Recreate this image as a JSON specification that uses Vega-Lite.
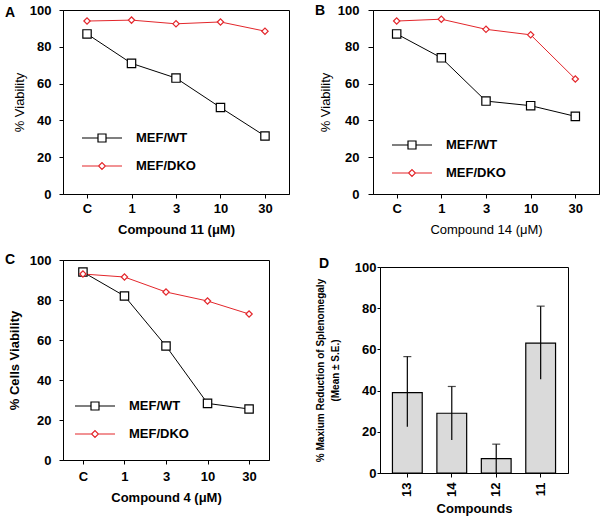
{
  "$schema": "https://vega.github.io/schema/vega-lite/v6.json",
  "padding": {"left": 4, "top": 3, "right": 0, "bottom": 0},
  "config": {
    "font": "Liberation Sans",
    "view": {"stroke": "black", "strokeWidth": 1},
    "axis": {"grid": false, "domainColor": "black", "tickColor": "black", "labelColor": "black", "titleColor": "black", "labelFontSize": 13, "labelFontWeight": "bold", "labelFont": "Liberation Sans", "titleFont": "Liberation Sans", "tickSize": 4, "domainWidth": 1, "tickWidth": 1},
    "title": {"anchor": "start", "frame": "group", "fontSize": 14, "fontWeight": "bold", "color": "black", "offset": 0, "baseline": "alphabetic"},
    "legend": {"title": null, "padding": 0, "symbolSize": 1600, "labelFontSize": 13, "labelFontWeight": "bold", "labelColor": "black", "labelFont": "Liberation Sans", "labelOffset": 13, "symbolStrokeWidth": 1.2, "symbolFillColor": "white"}
  },
  "spacing": 15,
  "resolve": {"scale": {"x": "independent", "y": "independent", "stroke": "independent"}, "legend": {"stroke": "independent"}},
  "vconcat": [
    {
      "spacing": 24,
      "resolve": {"scale": {"x": "independent", "y": "independent", "stroke": "independent"}, "legend": {"stroke": "independent"}},
      "hconcat": [
        {
          "width": 226, "height": 184,
          "title": {"text": "A", "dx": -58, "dy": 20},
          "data": {"values": [
            {"dose": "C", "series": "MEF/WT", "v": 87},
            {"dose": "1", "series": "MEF/WT", "v": 71},
            {"dose": "3", "series": "MEF/WT", "v": 63},
            {"dose": "10", "series": "MEF/WT", "v": 47},
            {"dose": "30", "series": "MEF/WT", "v": 31.5},
            {"dose": "C", "series": "MEF/DKO", "v": 94},
            {"dose": "1", "series": "MEF/DKO", "v": 94.5},
            {"dose": "3", "series": "MEF/DKO", "v": 92.5},
            {"dose": "10", "series": "MEF/DKO", "v": 93.5},
            {"dose": "30", "series": "MEF/DKO", "v": 88.5}
          ]},
          "encoding": {
            "x": {"field": "dose", "type": "ordinal", "sort": ["C", "1", "3", "10", "30"], "scale": {"type": "point", "padding": 0.54},
              "axis": {"title": "Compound 11 (μM)", "labelAngle": 0, "labelPadding": 4, "titlePadding": 8, "titleFontSize": 13, "titleFontWeight": "bold"}},
            "y": {"field": "v", "type": "quantitative", "scale": {"domain": [0, 100]},
              "axis": {"title": "% Viability", "values": [0, 20, 40, 60, 80, 100], "labelPadding": 8, "titlePadding": 3, "titleFontSize": 13, "titleFontWeight": "normal"}}
          },
          "layer": [
            {"mark": {"type": "line", "strokeWidth": 1},
              "encoding": {"stroke": {"field": "series", "type": "nominal", "scale": {"domain": ["MEF/WT", "MEF/DKO"], "range": ["#000000", "#e3262b"]},
                "legend": {"orient": "none", "legendX": 18, "legendY": 107, "rowPadding": -17,
                  "encode": {"symbols": {"update": {"shape": {"signal": "datum.value === 'MEF/WT' ? 'M-1,0H-0.2M0.2,0H1M-0.2,-0.2H0.2V0.2H-0.2Z' : 'M-1,0H-0.17M0.17,0H1M-0.17,0L0,-0.17L0.17,0L0,0.17Z'"}, "fill": {"value": "white"}, "strokeWidth": {"value": 1.2}, "size": {"value": 1600}}}}}}}},
            {"transform": [{"filter": "datum.series === 'MEF/WT'"}],
              "mark": {"type": "point", "shape": "square", "size": 70, "filled": true, "fill": "white", "stroke": "#000000", "opacity": 1, "strokeWidth": 1.2}},
            {"transform": [{"filter": "datum.series === 'MEF/DKO'"}],
              "mark": {"type": "point", "shape": "diamond", "size": 40, "filled": true, "fill": "white", "stroke": "#e3262b", "opacity": 1, "strokeWidth": 1.2}}
          ]
        },
        {
          "width": 226, "height": 184,
          "title": {"text": "B", "dx": -58, "dy": 18},
          "data": {"values": [
            {"dose": "C", "series": "MEF/WT", "v": 87},
            {"dose": "1", "series": "MEF/WT", "v": 74},
            {"dose": "3", "series": "MEF/WT", "v": 50.5},
            {"dose": "10", "series": "MEF/WT", "v": 48},
            {"dose": "30", "series": "MEF/WT", "v": 42.2},
            {"dose": "C", "series": "MEF/DKO", "v": 94},
            {"dose": "1", "series": "MEF/DKO", "v": 95},
            {"dose": "3", "series": "MEF/DKO", "v": 89.5},
            {"dose": "10", "series": "MEF/DKO", "v": 86.5},
            {"dose": "30", "series": "MEF/DKO", "v": 62.5}
          ]},
          "encoding": {
            "x": {"field": "dose", "type": "ordinal", "sort": ["C", "1", "3", "10", "30"], "scale": {"type": "point", "padding": 0.53},
              "axis": {"title": "Compound 14 (μM)", "labelAngle": 0, "labelPadding": 4, "titlePadding": 8, "titleFontSize": 13, "titleFontWeight": "normal"}},
            "y": {"field": "v", "type": "quantitative", "scale": {"domain": [0, 100]},
              "axis": {"title": "% Viability", "values": [0, 20, 40, 60, 80, 100], "labelPadding": 9, "tickSize": 5, "titlePadding": 5, "titleFontSize": 13, "titleFontWeight": "normal"}}
          },
          "layer": [
            {"mark": {"type": "line", "strokeWidth": 1},
              "encoding": {"stroke": {"field": "series", "type": "nominal", "scale": {"domain": ["MEF/WT", "MEF/DKO"], "range": ["#000000", "#e3262b"]},
                "legend": {"orient": "none", "legendX": 18, "legendY": 114, "rowPadding": -14,
                  "encode": {"symbols": {"update": {"shape": {"signal": "datum.value === 'MEF/WT' ? 'M-1,0H-0.2M0.2,0H1M-0.2,-0.2H0.2V0.2H-0.2Z' : 'M-1,0H-0.17M0.17,0H1M-0.17,0L0,-0.17L0.17,0L0,0.17Z'"}, "fill": {"value": "white"}, "strokeWidth": {"value": 1.2}, "size": {"value": 1600}}}}}}}},
            {"transform": [{"filter": "datum.series === 'MEF/WT'"}],
              "mark": {"type": "point", "shape": "square", "size": 70, "filled": true, "fill": "white", "stroke": "#000000", "opacity": 1, "strokeWidth": 1.2}},
            {"transform": [{"filter": "datum.series === 'MEF/DKO'"}],
              "mark": {"type": "point", "shape": "diamond", "size": 40, "filled": true, "fill": "white", "stroke": "#e3262b", "opacity": 1, "strokeWidth": 1.2}}
          ]
        }
      ]
    },
    {
      "spacing": 44,
      "resolve": {"scale": {"x": "independent", "y": "independent", "stroke": "independent"}, "legend": {"stroke": "independent"}},
      "hconcat": [
        {
          "width": 206, "height": 200,
          "title": {"text": "C", "dx": -58, "dy": 17},
          "data": {"values": [
            {"dose": "C", "series": "MEF/WT", "v": 94},
            {"dose": "1", "series": "MEF/WT", "v": 82},
            {"dose": "3", "series": "MEF/WT", "v": 57},
            {"dose": "10", "series": "MEF/WT", "v": 28.3},
            {"dose": "30", "series": "MEF/WT", "v": 25.5},
            {"dose": "C", "series": "MEF/DKO", "v": 93},
            {"dose": "1", "series": "MEF/DKO", "v": 91.5},
            {"dose": "3", "series": "MEF/DKO", "v": 84},
            {"dose": "10", "series": "MEF/DKO", "v": 79.5},
            {"dose": "30", "series": "MEF/DKO", "v": 73}
          ]},
          "encoding": {
            "x": {"field": "dose", "type": "ordinal", "sort": ["C", "1", "3", "10", "30"], "scale": {"type": "point", "padding": 0.48},
              "axis": {"title": "Compound 4  (μM)", "labelAngle": 0, "labelPadding": 6, "titlePadding": 8, "titleFontSize": 13, "titleFontWeight": "bold"}},
            "y": {"field": "v", "type": "quantitative", "scale": {"domain": [0, 100]},
              "axis": {"title": "% Cells Viability", "values": [0, 20, 40, 60, 80, 100], "labelPadding": 8, "titlePadding": 8, "titleFontSize": 13, "titleFontWeight": "bold"}}
          },
          "layer": [
            {"mark": {"type": "line", "strokeWidth": 1},
              "encoding": {"stroke": {"field": "series", "type": "nominal", "scale": {"domain": ["MEF/WT", "MEF/DKO"], "range": ["#000000", "#e3262b"]},
                "legend": {"orient": "none", "legendX": 11, "legendY": 125, "rowPadding": -12,
                  "encode": {"symbols": {"update": {"shape": {"signal": "datum.value === 'MEF/WT' ? 'M-1,0H-0.2M0.2,0H1M-0.2,-0.2H0.2V0.2H-0.2Z' : 'M-1,0H-0.17M0.17,0H1M-0.17,0L0,-0.17L0.17,0L0,0.17Z'"}, "fill": {"value": "white"}, "strokeWidth": {"value": 1.2}, "size": {"value": 1600}}}}}}}},
            {"transform": [{"filter": "datum.series === 'MEF/WT'"}],
              "mark": {"type": "point", "shape": "square", "size": 70, "filled": true, "fill": "white", "stroke": "#000000", "opacity": 1, "strokeWidth": 1.2}},
            {"transform": [{"filter": "datum.series === 'MEF/DKO'"}],
              "mark": {"type": "point", "shape": "diamond", "size": 40, "filled": true, "fill": "white", "stroke": "#e3262b", "opacity": 1, "strokeWidth": 1.2}}
          ]
        },
        {
          "spacing": -8,
          "vconcat": [
            {"width": 188, "height": 1, "view": {"stroke": null}, "data": {"values": [{"a": 0}]}, "mark": {"type": "point", "opacity": 0}},
            {
              "width": 188, "height": 206,
              "title": {"text": "D", "dx": -61, "dy": 14},
              "data": {"values": [
                {"c": "13", "m": 39, "lo": 22.5, "hi": 56.5},
                {"c": "14", "m": 29, "lo": 16, "hi": 42},
                {"c": "12", "m": 7, "lo": 0, "hi": 14},
                {"c": "11", "m": 63, "lo": 45.5, "hi": 81}
              ]},
              "encoding": {
                "x": {"field": "c", "type": "nominal", "sort": ["13", "14", "12", "11"], "scale": {"paddingInner": 0.33, "paddingOuter": 0.28},
                  "axis": {"title": "Compounds", "labelAngle": -90, "labelAlign": "right", "labelBaseline": "middle", "labelPadding": 5, "titlePadding": 6, "titleFontSize": 13, "titleFontWeight": "bold"}}
              },
              "layer": [
                {"mark": {"type": "bar", "fill": "#dadada", "stroke": "black", "strokeWidth": 1.2},
                  "encoding": {"y": {"field": "m", "type": "quantitative", "scale": {"domain": [0, 100]},
                    "axis": {"title": ["% Maxium Reduction of Splenomegaly", "(Mean ± S.E.)"], "values": [0, 20, 40, 60, 80, 100], "labelPadding": 1, "tickSize": 3, "titlePadding": 14, "titleFontSize": 10, "titleFontWeight": "bold", "titleLineHeight": 15}}}},
                {"mark": {"type": "rule", "strokeWidth": 1.2, "color": "black"},
                  "encoding": {"y": {"field": "lo", "type": "quantitative", "title": ["% Maxium Reduction of Splenomegaly", "(Mean ± S.E.)"]}, "y2": {"field": "hi"}}},
                {"mark": {"type": "tick", "thickness": 1.2, "size": 8, "color": "black"},
                  "encoding": {"y": {"field": "hi", "type": "quantitative", "title": ["% Maxium Reduction of Splenomegaly", "(Mean ± S.E.)"]}}}
              ]
            }
          ]
        }
      ]
    }
  ]
}
